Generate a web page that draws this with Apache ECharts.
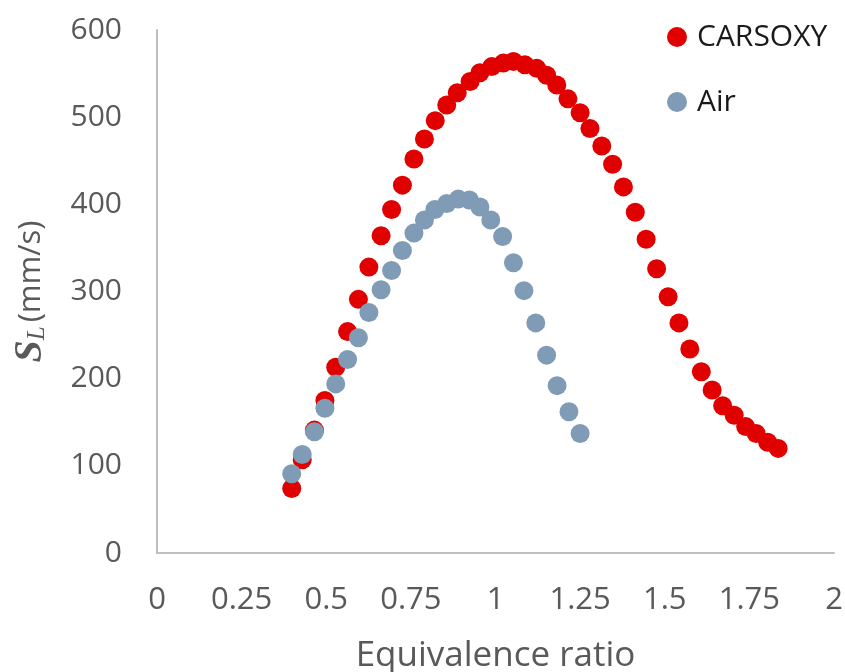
<!DOCTYPE html>
<html>
<head>
<meta charset="utf-8">
<script src="https://cdn.jsdelivr.net/npm/echarts@6/dist/echarts.min.js"></script>
<style>
  html, body { margin: 0; padding: 0; background: #ffffff; }
  #chart { width: 845px; height: 672px; }
</style>
</head>
<body>
<div id="chart"></div>
<script>
// Laminar burning velocity vs equivalence ratio
const carsoxyPhi = [0.398, 0.429, 0.465, 0.496, 0.528, 0.563, 0.595, 0.626, 0.662, 0.693,
  0.725, 0.759, 0.790, 0.822, 0.856, 0.887, 0.925, 0.954, 0.989, 1.023,
  1.053, 1.087, 1.122, 1.151, 1.181, 1.214, 1.250, 1.279, 1.314, 1.346,
  1.378, 1.413, 1.445, 1.476, 1.510, 1.542, 1.574, 1.608, 1.640, 1.671,
  1.705, 1.739, 1.770, 1.804, 1.835];
const carsoxySL = [74, 107, 141, 175, 213, 254, 291, 328, 364, 394,
  422, 452, 475, 496, 514, 528, 541, 551, 558, 562,
  564, 560, 556, 548, 537, 521, 505, 487, 467, 446,
  420, 391, 360, 326, 294, 264, 234, 208, 187, 169,
  158, 145, 137, 127, 120];

const airPhi = [0.398, 0.429, 0.465, 0.496, 0.528, 0.563, 0.595, 0.626, 0.662, 0.693,
  0.725, 0.759, 0.790, 0.821, 0.856, 0.890, 0.923, 0.954, 0.986, 1.021,
  1.053, 1.084, 1.119, 1.151, 1.182, 1.217, 1.250];
const airSL = [91, 113, 139, 166, 194, 222, 247, 276, 302, 324,
  347, 367, 382, 394, 401, 406, 405, 397, 382, 363,
  333, 301, 264, 227, 192, 162, 137];

const seriesNames = ['CARSOXY', 'Air'];

const pairs = (xs, ys) => xs.map((x, i) => [x, ys[i]]);

const chart = echarts.init(document.getElementById('chart'), null, { renderer: 'canvas' });

const axisGray = '#595959';
const lineGray = '#BFBFBF';

chart.setOption({
  animation: false,
  backgroundColor: '#ffffff',
  grid: { left: 157, right: 11, top: 30, bottom: 119, containLabel: false, outerBoundsMode: 'none' },
  legend: {
    orient: 'vertical',
    left: 662,
    top: 16,
    itemWidth: 20,
    itemHeight: 20,
    itemGap: 33,
    icon: 'circle',
    data: seriesNames,
    textStyle: {
      fontFamily: 'Open Sans',
      fontSize: 30,
      color: '#1a1a1a',
      lineHeight: 32,
      padding: [0, 0, 0, 5]
    }
  },
  xAxis: {
    type: 'value',
    min: 0,
    max: 2,
    interval: 0.25,
    name: 'Equivalence ratio',
    nameLocation: 'middle',
    nameGap: 86,
    nameTextStyle: { fontFamily: 'Open Sans', fontSize: 35, color: axisGray },
    axisLine: { show: true, onZero: false, lineStyle: { color: lineGray, width: 2 } },
    axisTick: { show: false },
    splitLine: { show: false },
    axisLabel: { fontFamily: 'Open Sans', fontSize: 31, color: axisGray, margin: 32 }
  },
  yAxis: {
    type: 'value',
    min: 0,
    max: 600,
    interval: 100,
    name: '{s|S}{l|L}{u|(mm/s)}',
    nameLocation: 'middle',
    nameGap: 106,
    nameTextStyle: {
      rich: {
        s: { fontFamily: 'Liberation Serif', fontStyle: 'italic', fontWeight: 'bold', fontSize: 40, color: axisGray },
        l: { fontFamily: 'Liberation Serif', fontStyle: 'italic', fontSize: 25, color: axisGray, padding: [12, 4, 0, 0] },
        u: { fontFamily: 'Open Sans', fontSize: 31, color: axisGray }
      }
    },
    axisLine: { show: true, lineStyle: { color: lineGray, width: 2 } },
    axisTick: { show: false },
    splitLine: { show: false },
    axisLabel: { fontFamily: 'Open Sans', fontSize: 30, color: axisGray, margin: 35 }
  },
  series: [
    {
      name: seriesNames[0],
      type: 'scatter',
      symbol: 'circle',
      symbolSize: 19,
      itemStyle: { color: '#E00000', opacity: 1 },
      data: pairs(carsoxyPhi, carsoxySL)
    },
    {
      name: seriesNames[1],
      type: 'scatter',
      symbol: 'circle',
      symbolSize: 19,
      itemStyle: { color: '#7F9BB5', opacity: 1 },
      data: pairs(airPhi, airSL)
    }
  ]
});
</script>
</body>
</html>
